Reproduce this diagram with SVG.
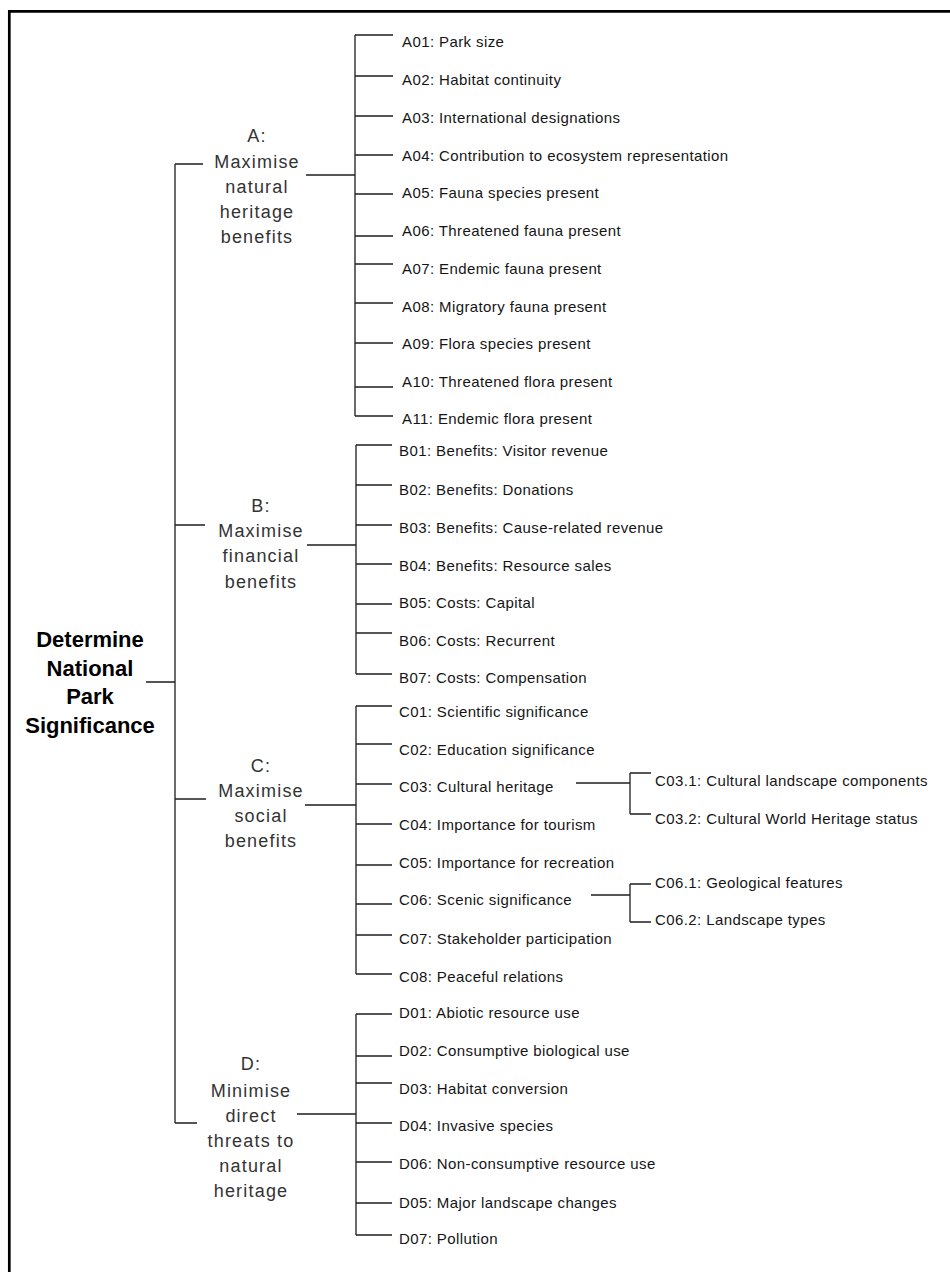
<svg xmlns="http://www.w3.org/2000/svg" width="950" height="1272" viewBox="0 0 950 1272">
  <style>
    .frame { fill: none; stroke: #000; stroke-width: 2.7; }
    .wire { fill: none; stroke: #1e1e1e; stroke-width: 1.3; }
    .root { font-family: "Liberation Sans", Arial, sans-serif; font-size: 22px; font-weight: bold; fill: #000; text-anchor: middle; }
    .goal { font-family: "Liberation Sans", Arial, sans-serif; font-size: 18px; fill: #333; text-anchor: middle; letter-spacing: 1.2px; }
    .leaf { font-family: "Liberation Sans", Arial, sans-serif; font-size: 15px; fill: #151515; letter-spacing: 0.4px; }
  </style>
  <rect width="950" height="1272" fill="#fff"/>

  <!-- page frame: only the top and left edges are drawn -->
  <path class="frame" d="M9.3,1272 V11.3 H950"/>

  <!-- connectors -->
  <g id="connectors" class="wire">
    <!-- root to goals -->
    <path d="M146,682 H175 M175,164 V1123 M175,164 H203 M175,525 H205 M175,799 H206 M175,1123 H197"/>
    <!-- goal A -->
    <path d="M306,175 H355 M355,35 V416
             M355,35 H393 M355,76 H393 M355,116 H393 M355,155 H393 M355,194 H393 M355,236 H393
             M355,264 H393 M355,303 H393 M355,343 H393 M355,387 H393 M355,416 H393"/>
    <!-- goal B -->
    <path d="M307,545 H356 M356,445 V674
             M356,445 H392 M356,485 H392 M356,525 H392 M356,564 H392 M356,604 H392 M356,633 H392 M356,674 H392"/>
    <!-- goal C -->
    <path d="M305,805 H356 M356,706 V974
             M356,706 H392 M356,744 H392 M356,784 H392 M356,824 H392 M356,865 H392 M356,904 H392
             M356,935 H392 M356,974 H392"/>
    <!-- C03 and C06 sub-criteria -->
    <path d="M576,783 H630 M630,773 V814 M630,773 H651 M630,814 H651"/>
    <path d="M591,895 H630 M630,884 V922 M630,884 H651 M630,922 H651"/>
    <!-- goal D -->
    <path d="M297,1114 H356 M356,1014 V1235
             M356,1014 H392 M356,1056 H392 M356,1083 H392 M356,1123 H392 M356,1162 H392 M356,1203 H392 M356,1235 H392"/>
  </g>

  <!-- root -->
  <g id="root">
    <text class="root" x="90" y="647">Determine</text>
    <text class="root" x="90" y="676">National</text>
    <text class="root" x="90" y="704">Park</text>
    <text class="root" x="90" y="733">Significance</text>
  </g>

  <!-- goals -->
  <g id="goal-A">
    <text class="goal" x="257" y="142">A:</text>
    <text class="goal" x="257" y="168">Maximise</text>
    <text class="goal" x="257" y="193">natural</text>
    <text class="goal" x="257" y="218">heritage</text>
    <text class="goal" x="257" y="243">benefits</text>
  </g>
  <g id="goal-B">
    <text class="goal" x="261" y="512">B:</text>
    <text class="goal" x="261" y="537">Maximise</text>
    <text class="goal" x="261" y="562">financial</text>
    <text class="goal" x="261" y="588">benefits</text>
  </g>
  <g id="goal-C">
    <text class="goal" x="261" y="772">C:</text>
    <text class="goal" x="261" y="797">Maximise</text>
    <text class="goal" x="261" y="822">social</text>
    <text class="goal" x="261" y="847">benefits</text>
  </g>
  <g id="goal-D">
    <text class="goal" x="251" y="1070">D:</text>
    <text class="goal" x="251" y="1097">Minimise</text>
    <text class="goal" x="251" y="1122">direct</text>
    <text class="goal" x="251" y="1147">threats to</text>
    <text class="goal" x="251" y="1172">natural</text>
    <text class="goal" x="251" y="1197">heritage</text>
  </g>

  <!-- criteria A -->
  <g id="A01"><text class="leaf" x="402" y="47">A01: Park size</text></g>
  <g id="A02"><text class="leaf" x="402" y="84.5">A02: Habitat continuity</text></g>
  <g id="A03"><text class="leaf" x="402" y="122.5">A03: International designations</text></g>
  <g id="A04"><text class="leaf" x="402" y="160.5">A04: Contribution to ecosystem representation</text></g>
  <g id="A05"><text class="leaf" x="402" y="197.5">A05: Fauna species present</text></g>
  <g id="A06"><text class="leaf" x="402" y="235.5">A06: Threatened fauna present</text></g>
  <g id="A07"><text class="leaf" x="402" y="273.5">A07: Endemic fauna present</text></g>
  <g id="A08"><text class="leaf" x="402" y="311.5">A08: Migratory fauna present</text></g>
  <g id="A09"><text class="leaf" x="402" y="348.5">A09: Flora species present</text></g>
  <g id="A10"><text class="leaf" x="402" y="386.5">A10: Threatened flora present</text></g>
  <g id="A11"><text class="leaf" x="402" y="423.5">A11: Endemic flora present</text></g>

  <!-- criteria B -->
  <g id="B01"><text class="leaf" x="399" y="455.5">B01: Benefits: Visitor revenue</text></g>
  <g id="B02"><text class="leaf" x="399" y="494.5">B02: Benefits: Donations</text></g>
  <g id="B03"><text class="leaf" x="399" y="532.5">B03: Benefits: Cause-related revenue</text></g>
  <g id="B04"><text class="leaf" x="399" y="570.5">B04: Benefits: Resource sales</text></g>
  <g id="B05"><text class="leaf" x="399" y="607.5">B05: Costs: Capital</text></g>
  <g id="B06"><text class="leaf" x="399" y="645.5">B06: Costs: Recurrent</text></g>
  <g id="B07"><text class="leaf" x="399" y="682.5">B07: Costs: Compensation</text></g>

  <!-- criteria C -->
  <g id="C01"><text class="leaf" x="399" y="716.5">C01: Scientific significance</text></g>
  <g id="C02"><text class="leaf" x="399" y="754.5">C02: Education significance</text></g>
  <g id="C03"><text class="leaf" x="399" y="791.5">C03: Cultural heritage</text></g>
  <g id="C03.1"><text class="leaf" x="655" y="785.5">C03.1: Cultural landscape components</text></g>
  <g id="C03.2"><text class="leaf" x="655" y="823.5">C03.2: Cultural World Heritage status</text></g>
  <g id="C04"><text class="leaf" x="399" y="829.5">C04: Importance for tourism</text></g>
  <g id="C05"><text class="leaf" x="399" y="867.5">C05: Importance for recreation</text></g>
  <g id="C06"><text class="leaf" x="399" y="904.5">C06: Scenic significance</text></g>
  <g id="C06.1"><text class="leaf" x="655" y="887.5">C06.1: Geological features</text></g>
  <g id="C06.2"><text class="leaf" x="655" y="924.5">C06.2: Landscape types</text></g>
  <g id="C07"><text class="leaf" x="399" y="943.5">C07: Stakeholder participation</text></g>
  <g id="C08"><text class="leaf" x="399" y="981.5">C08: Peaceful relations</text></g>

  <!-- criteria D -->
  <g id="D01"><text class="leaf" x="399" y="1017.5">D01: Abiotic resource use</text></g>
  <g id="D02"><text class="leaf" x="399" y="1055.5">D02: Consumptive biological use</text></g>
  <g id="D03"><text class="leaf" x="399" y="1093.5">D03: Habitat conversion</text></g>
  <g id="D04"><text class="leaf" x="399" y="1130.5">D04: Invasive species</text></g>
  <g id="D06"><text class="leaf" x="399" y="1168.5">D06: Non-consumptive resource use</text></g>
  <g id="D05"><text class="leaf" x="399" y="1207.5">D05: Major landscape changes</text></g>
  <g id="D07"><text class="leaf" x="399" y="1243.5">D07: Pollution</text></g>
</svg>
